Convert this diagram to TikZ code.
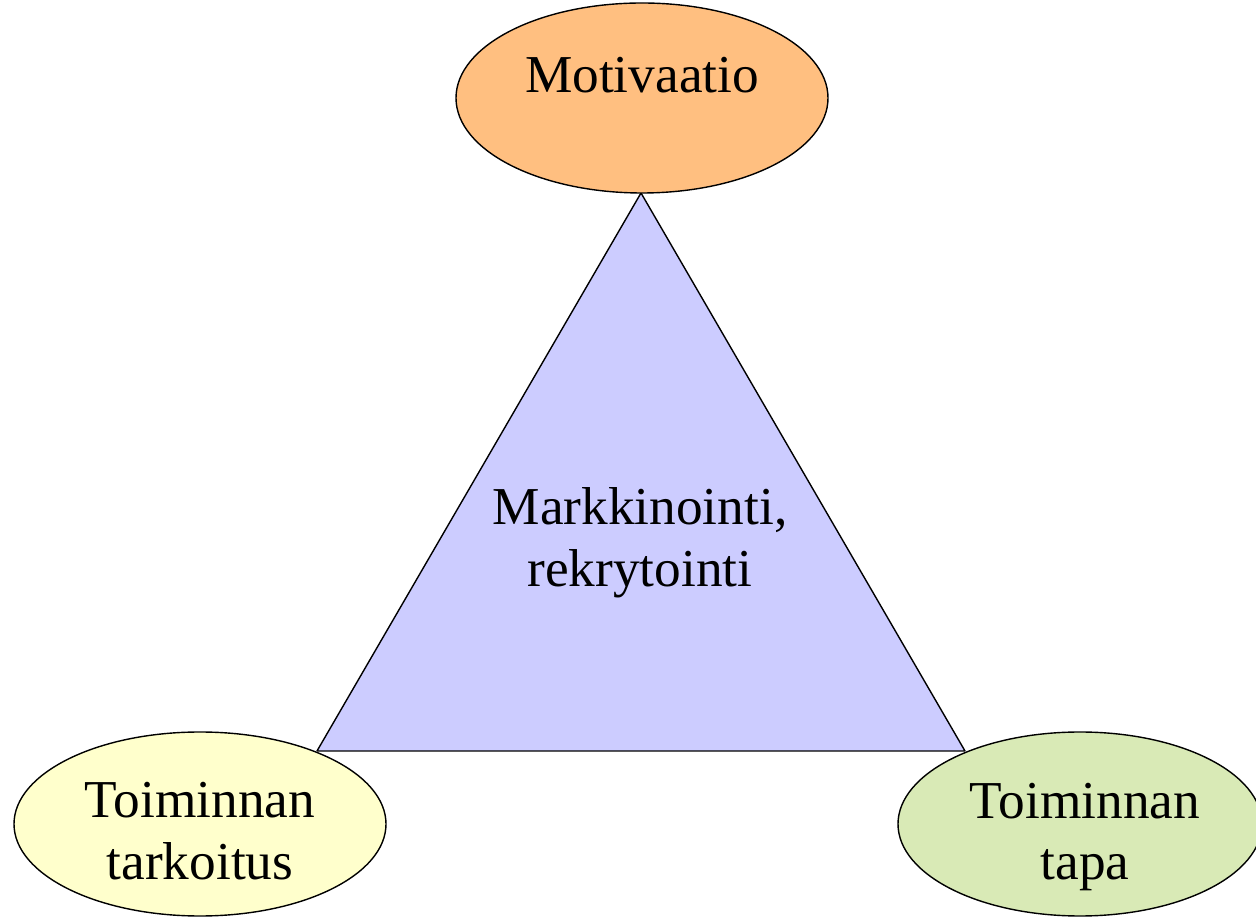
\documentclass[tikz,border=0pt]{standalone}
\usepackage{fontspec}
\setmainfont{Liberation Serif}
\usepackage{tikz}
\usetikzlibrary{arrows,shapes,shapes.geometric}

\definecolor{orangecol}{RGB}{255,191,128}
\definecolor{yellowcol}{RGB}{255,255,204}
\definecolor{greencol}{RGB}{217,234,182}
\definecolor{bluecol}{RGB}{204,204,255}

\tikzset{
  pallo/.style={ellipse,draw=black,line width=1.4bp,inner sep=0pt},
  teksti/.style={font=\fontsize{53.5}{62}\selectfont,align=center,inner sep=0pt}
}

\begin{document}
\begin{tikzpicture}[x=1bp,y=1bp,line join=bevel]
  \useasboundingbox (0bp,0bp) rectangle (1256bp,917bp);
%%
  % Triangle: markkinointi
  \coordinate (ylakulma) at (641bp,724bp);
  \coordinate (vasenkulma) at (317bp,166bp);
  \coordinate (oikeakulma) at (965bp,166bp);
  \filldraw[fill=bluecol,draw=black,line width=1.4bp] (ylakulma) -- (vasenkulma) -- (oikeakulma) -- cycle;
  \node[teksti] (markkinointi) at (640bp,374bp) {Markkinointi,\\rekrytointi};
  % Node: motivaatio
  \node[pallo,fill=orangecol,minimum width=372bp,minimum height=190bp] (motivaatio) at (642bp,819bp) {};
  \node[teksti,anchor=base] (motivaatioteksti) at (642bp,824bp) {Motivaatio};
  % Node: tarkoitus
  \node[pallo,fill=yellowcol,minimum width=372bp,minimum height=184bp] (tarkoitus) at (200bp,93bp) {};
  \node[teksti] (tarkoitusteksti) at (200bp,86bp) {Toiminnan\\tarkoitus};
  % Node: tapa
  \node[pallo,fill=greencol,minimum width=364bp,minimum height=184bp] (tapa) at (1080bp,93bp) {};
  \node[teksti] (tapateksti) at (1085bp,80bp) {Toiminnan\\tapa};
%
\end{tikzpicture}
\end{document}
